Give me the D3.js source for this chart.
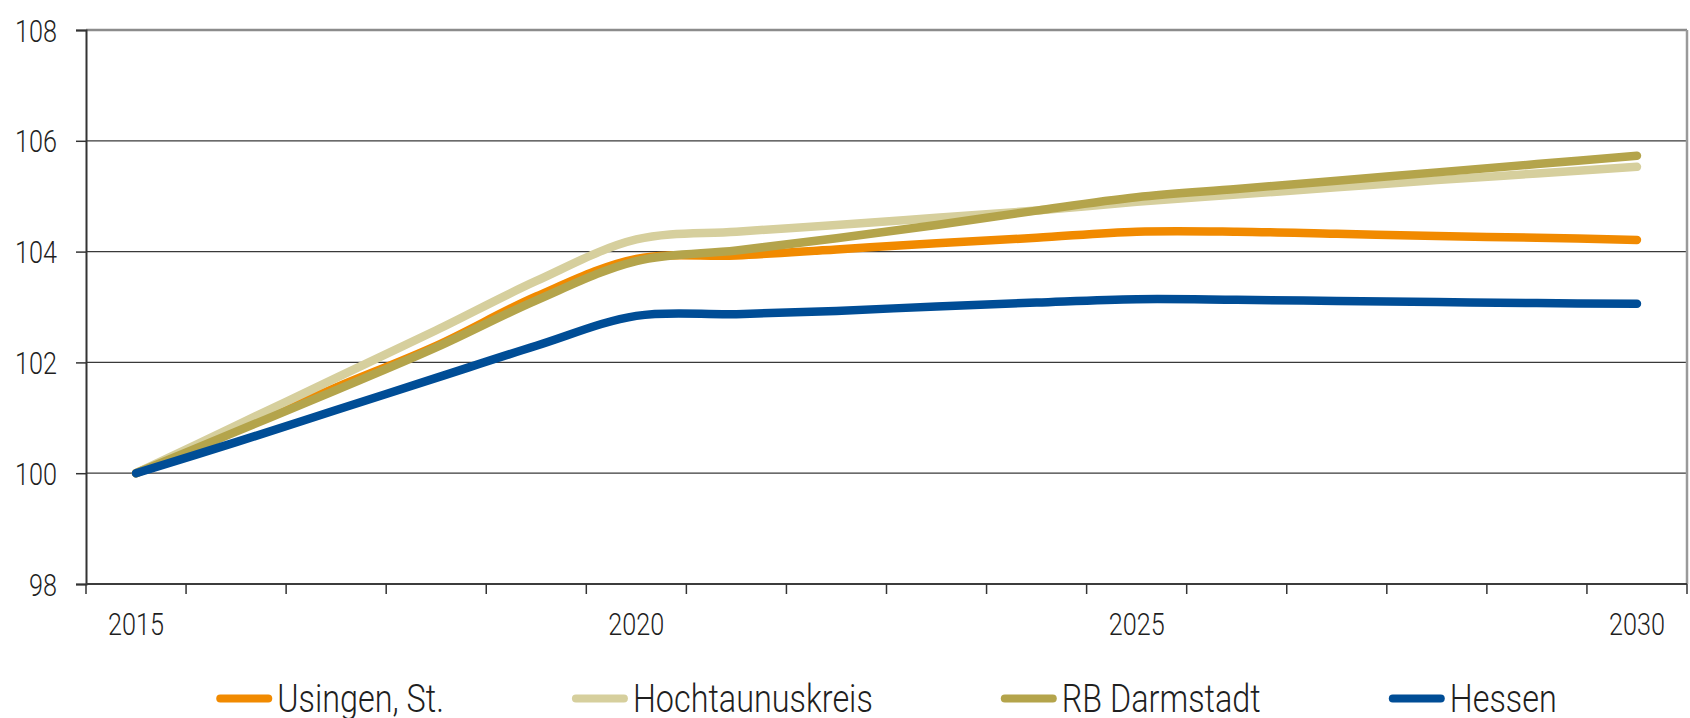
<!DOCTYPE html>
<html>
<head>
<meta charset="utf-8">
<script src="https://cdn.jsdelivr.net/npm/d3@7"></script>
<style>
  html, body { margin: 0; padding: 0; background: #fff; }
  svg { display: block; }
  text { font-family: Roboto, "Liberation Sans", sans-serif; font-weight: 300; fill: #1f1f1f; }
</style>
</head>
<body>
<svg id="chart" width="1690" height="718"></svg>
<script>
const years = ["2015","2016","2017","2018","2019","2020","2021","2022","2023","2024","2025","2026","2027","2028","2029","2030"];
const xTickLabels = ["2015","2020","2025","2030"];
const yTicks = [98, 100, 102, 104, 106, 108];

const usingen     = [100, 100.78, 101.55, 102.30, 103.19, 103.87, 103.93, 104.04, 104.15, 104.25, 104.36, 104.36, 104.32, 104.28, 104.25, 104.21];
const hochtaunus  = [100, 100.86, 101.72, 102.58, 103.47, 104.22, 104.36, 104.48, 104.61, 104.74, 104.90, 105.03, 105.16, 105.29, 105.41, 105.53];
const rbDarmstadt = [100, 100.75, 101.50, 102.27, 103.12, 103.83, 104.02, 104.24, 104.48, 104.74, 104.98, 105.13, 105.28, 105.43, 105.58, 105.73];
const hessen      = [100, 100.56, 101.14, 101.72, 102.30, 102.84, 102.87, 102.93, 103.01, 103.08, 103.14, 103.13, 103.11, 103.09, 103.07, 103.06];

const seriesNames = ["Usingen, St.", "Hochtaunuskreis", "RB Darmstadt", "Hessen"];
const seriesColors = ["#f18a00", "#d6cf9d", "#b4a44b", "#004d96"];
const seriesValues = [usingen, hochtaunus, rbDarmstadt, hessen];

const svg = d3.select("#chart");
const L = 86, R = 1687, T = 30, B = 584;

// horizontal compression factors to imitate a light condensed face
function measure(str, size) {
  const t = svg.append("text").attr("font-size", size).text(str);
  const w = t.node().getComputedTextLength();
  t.remove();
  return w;
}
const kAxis = 56 / measure("2015", 31);
const kLegend = 240 / measure("Hochtaunuskreis", 38);

const x = d3.scaleBand().domain(years).range([L, R]);
const cx = d => x(d) + x.bandwidth() / 2;
const y = d3.scaleLinear().domain([98, 108]).range([B, T]);

// gridlines
svg.append("g").selectAll("line")
  .data(yTicks.filter(v => v > 98 && v < 108))
  .join("line")
  .attr("x1", L).attr("x2", R)
  .attr("y1", d => y(d)).attr("y2", d => y(d))
  .attr("stroke", "#3a3a3a").attr("stroke-width", 1.2);

// top and right border
svg.append("line").attr("x1", L).attr("x2", R).attr("y1", T).attr("y2", T)
  .attr("stroke", "#8c8c8c").attr("stroke-width", 2.5);
svg.append("line").attr("x1", R).attr("x2", R).attr("y1", T).attr("y2", B)
  .attr("stroke", "#9a9a9a").attr("stroke-width", 2.5);

// y axis
const yAxis = d3.axisLeft(y).tickValues(yTicks).tickSize(10).tickPadding(0).tickFormat(d3.format("d"));
const gy = svg.append("g").attr("transform", `translate(${L},0)`).call(yAxis);
gy.select(".domain").attr("stroke", "#333").attr("stroke-width", 2);
gy.selectAll(".tick line").attr("stroke", "#333").attr("stroke-width", 1.5);
gy.selectAll(".tick text")
  .attr("font-family", null).attr("font-size", 31).attr("fill", "#1f1f1f")
  .attr("x", null).attr("dy", null)
  .attr("transform", `translate(-29,11) scale(${kAxis},1)`);

// x axis: ticks at band boundaries
const gx = svg.append("g").attr("transform", `translate(0,${B})`);
gx.append("line").attr("x1", L).attr("x2", R).attr("y1", 0).attr("y2", 0)
  .attr("stroke", "#3c3c3c").attr("stroke-width", 2.2);
const bounds = years.map(d => x(d)).concat([x(years[years.length - 1]) + x.bandwidth()]);
gx.selectAll("line.tk").data(bounds).join("line").attr("class", "tk")
  .attr("x1", d => d).attr("x2", d => d).attr("y1", 0).attr("y2", 10)
  .attr("stroke", "#333").attr("stroke-width", 1.5);
gx.selectAll("text").data(xTickLabels).join("text")
  .attr("transform", d => `translate(${cx(d)},51) scale(${kAxis},1)`)
  .attr("text-anchor", "middle").attr("font-size", 31)
  .text(d => d);

// lines
const line = d3.line()
  .x((d, i) => cx(years[i]))
  .y(d => y(d))
  .curve(d3.curveCatmullRom.alpha(0.5));

svg.append("g").selectAll("path")
  .data(seriesValues)
  .join("path")
  .attr("d", d => line(d))
  .attr("fill", "none")
  .attr("stroke", (d, i) => seriesColors[i])
  .attr("stroke-width", 8.5)
  .attr("stroke-linecap", "round")
  .attr("stroke-linejoin", "round");

// legend
const lg = svg.append("g");
const swatchW = 56, swatchGap = 5, itemGap = 128, legendY = 698.5;
const items = seriesNames.map((name, i) => {
  const g = lg.append("g");
  g.append("line").attr("x1", 4).attr("x2", swatchW - 4).attr("y1", legendY).attr("y2", legendY)
    .attr("stroke", seriesColors[i]).attr("stroke-width", 8).attr("stroke-linecap", "round");
  const t = g.append("text")
    .attr("transform", `translate(${swatchW + swatchGap},${legendY + 13.5}) scale(${kLegend},1)`)
    .attr("font-size", 38).text(name);
  const w = t.node().getComputedTextLength() * kLegend;
  return { g, w: swatchW + swatchGap + w };
});
const total = d3.sum(items, d => d.w) + itemGap * (items.length - 1);
let pos = (L + R) / 2 - total / 2;
items.forEach(it => {
  it.g.attr("transform", `translate(${pos},0)`);
  pos += it.w + itemGap;
});
</script>
</body>
</html>
